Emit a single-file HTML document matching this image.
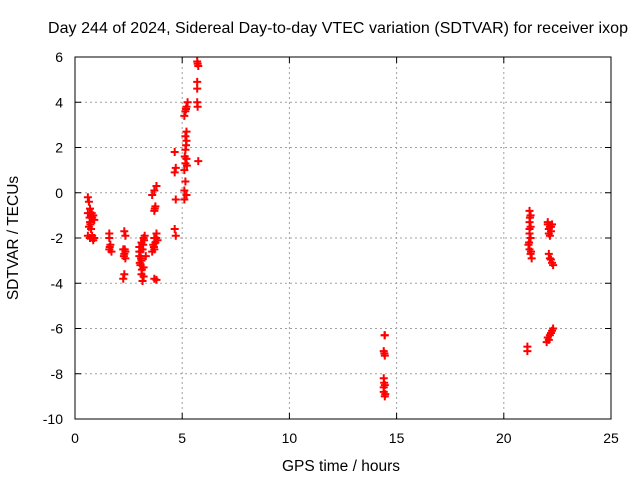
<!DOCTYPE html>
<html><head><meta charset="utf-8"><style>
body{margin:0;background:#fff;font-family:"Liberation Sans",sans-serif;}
svg text{font-family:"Liberation Sans",sans-serif;font-size:14px;fill:#000;}
</style></head><body>
<svg id="chart" width="640" height="480">
<text x="338" y="33" text-anchor="middle" style="font-size:16px" textLength="580">Day 244 of 2024, Sidereal Day-to-day VTEC variation (SDTVAR) for receiver ixop</text>
<text x="341" y="471" text-anchor="middle" style="font-size:15.5px">GPS time / hours</text>
<text transform="translate(18,238) rotate(-90)" text-anchor="middle" style="font-size:15.5px">SDTVAR / TECUs</text>
<g id="grid"></g><g id="axes"></g><g id="marks"></g>
<rect x="75" y="57" width="536" height="362" fill="none" stroke="#000" stroke-width="1"/>
</svg>
<script>
const xTicks=[0,5,10,15,20,25];
const yTicks=[-10,-8,-6,-4,-2,0,2,4,6];
const hours=[0.6,0.65,0.7,0.6,0.75,0.8,0.85,0.9,0.7,0.65,0.75,0.6,0.7,0.8,0.9,0.85,0.72,0.78,0.68,0.82,
1.6,1.6,1.65,1.6,1.7,1.62,
2.3,2.35,2.25,2.3,2.35,2.25,2.3,2.35,2.28,2.32,
3.0,3.05,3.0,3.1,3.1,3.2,3.25,3.15,3.05,3.1,3.15,3.2,3.2,3.3,3.0,3.08,3.12,3.18,3.02,3.22,
3.7,3.8,3.75,3.6,3.7,3.85,3.7,3.8,3.7,3.75,3.6,3.7,3.8,3.65,3.78,3.72,3.68,
4.65,4.7,4.65,4.7,4.65,4.7,
5.1,5.2,5.15,5.1,5.15,5.2,5.15,5.2,5.15,5.2,5.1,5.15,5.2,5.25,5.12,5.18,5.22,5.1,5.18,
5.7,5.75,5.7,5.7,5.7,5.72,5.75,5.72,
14.45,14.4,14.45,14.4,14.45,14.4,14.45,14.4,14.42,14.47,14.43,14.44,
21.2,21.25,21.2,21.25,21.2,21.25,21.15,21.2,21.25,21.3,21.1,21.1,21.22,21.18,21.27,21.2,
22.05,22.15,22.25,22.1,22.2,22.1,22.15,22.25,22.3,22.0,22.05,22.15,22.25,22.3,22.1,22.2,22.15,22.05,22.2,22.2,22.1];
const sdtvar=[-0.2,-0.4,-0.7,-0.9,-1.0,-1.1,-1.0,-1.2,-1.3,-1.5,-1.6,-1.9,-2.0,-1.9,-2.0,-2.1,-1.4,-0.9,-1.1,-2.0,
-1.8,-2.0,-2.3,-2.5,-2.6,-2.4,
-1.7,-1.9,-2.5,-2.7,-2.9,-3.8,-3.6,-2.6,-2.8,-2.5,
-2.4,-2.6,-2.8,-3.0,-2.2,-2.0,-1.9,-2.5,-3.2,-3.6,-3.9,-3.7,-3.3,-2.8,-2.6,-2.9,-3.4,-2.3,-3.1,-2.1,
-2.0,-1.8,-2.2,-2.6,-2.5,-2.1,-3.8,-3.85,-0.8,-0.6,-0.1,0.1,0.3,-2.3,-2.0,-0.7,-2.4,
1.8,1.1,0.9,-0.3,-1.6,-1.9,
-0.3,-0.1,0.5,1.0,1.3,1.5,1.9,2.3,2.5,2.7,3.4,3.6,3.8,4.0,1.6,2.1,1.2,0.1,3.7,
5.8,5.6,4.9,4.6,4.0,3.8,1.4,5.7,
-6.3,-7.0,-7.2,-8.2,-8.5,-8.8,-9.0,-8.6,-8.4,-8.9,-7.1,-6.3,
-0.8,-1.0,-1.3,-1.5,-1.8,-2.0,-2.3,-2.5,-2.7,-2.9,-6.8,-7.0,-1.1,-2.2,-2.6,-1.6,
-1.3,-1.5,-1.4,-1.8,-1.7,-2.7,-2.9,-3.1,-3.2,-6.6,-6.4,-6.3,-6.1,-6.0,-1.6,-1.5,-1.9,-1.4,-2.95,-6.2,-6.5];
const X0=75,X1=611,Y0=419,Y1=57;
const xs=v=>X0+(v-0)/25*(X1-X0);
const ys=v=>Y0-(v+10)/16*(Y0-Y1);
const NS='http://www.w3.org/2000/svg';
function mk(tag,attrs,parent){const e=document.createElementNS(NS,tag);for(const k in attrs)e.setAttribute(k,attrs[k]);document.getElementById(parent).appendChild(e);return e;}
xTicks.forEach(t=>{const x=xs(t);
 if(t>0&&t<25){const g=mk('line',{x1:x,x2:x,y1:Y0,y2:Y1,stroke:'#a0a0a0','stroke-dasharray':'2,3'},'grid');
 
 }
 mk('line',{x1:x,x2:x,y1:Y0,y2:Y0-6,stroke:'#000'},'axes');
 mk('line',{x1:x,x2:x,y1:Y1,y2:Y1+6,stroke:'#000'},'axes');
 const l=mk('text',{x:x,y:Y0+24,'text-anchor':'middle'},'axes');l.textContent=t;
 
 });
yTicks.forEach(t=>{const y=ys(t);
 if(t>-10&&t<6){const g=mk('line',{x1:X0,x2:X1,y1:y,y2:y,stroke:'#a0a0a0','stroke-dasharray':'2,3'},'grid');
 
 }
 mk('line',{x1:X0,x2:X0+6,y1:y,y2:y,stroke:'#000'},'axes');
 mk('line',{x1:X1,x2:X1-6,y1:y,y2:y,stroke:'#000'},'axes');
 const l=mk('text',{x:X0-12,y:y+5,'text-anchor':'end'},'axes');l.textContent=t;
 
 });
hours.forEach((h,i)=>{const x=xs(h),y=ys(sdtvar[i]);
 const p=mk('path',{d:`M${x-4},${y}H${x+4}M${x},${y-4}V${y+4}`,stroke:'#ff0000','stroke-width':2},'marks');
 
 });
</script>
</body></html>
